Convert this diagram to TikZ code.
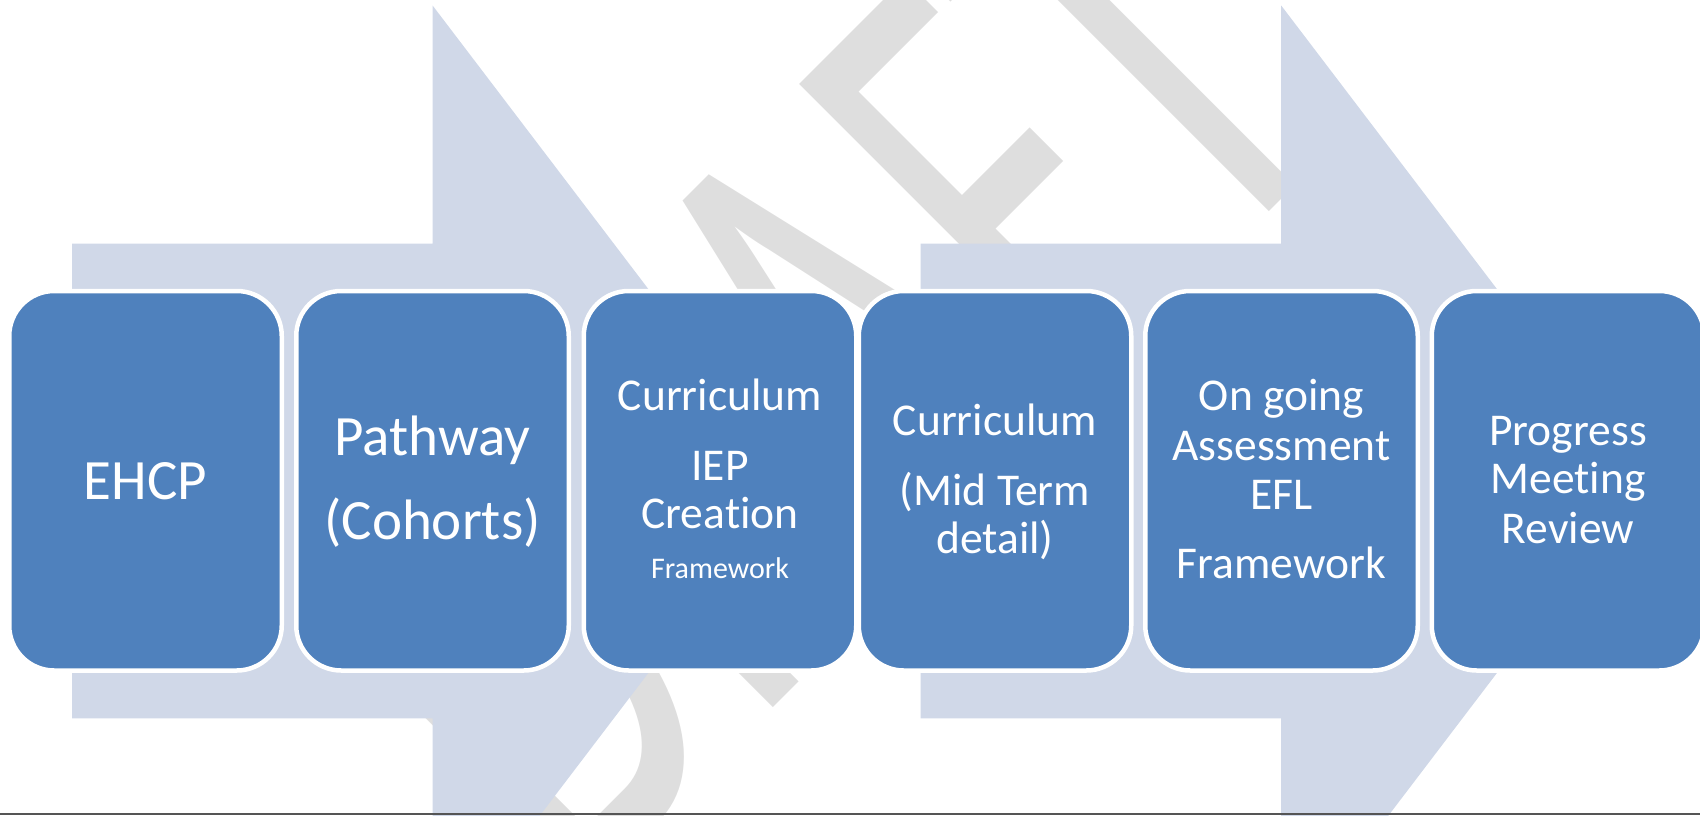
\documentclass[tikz,border=0pt]{standalone}
\usepackage{fontspec}
\setmainfont{Carlito}[Ligatures=NoCommon]
\usepackage{graphicx}
\definecolor{boxblue}{RGB}{79,129,189}
\definecolor{arrowblue}{RGB}{208,216,232}
\definecolor{wmgray}{RGB}{222,222,222}
\definecolor{botline}{RGB}{85,85,85}
\begin{document}
\begin{tikzpicture}[x=1pt,y=-1pt,
  stepbox/.style={draw=white, line width=4.5pt, fill=boxblue, rounded corners=45pt,
    minimum width=272.5pt, minimum height=379.5pt, inner sep=0pt, outer sep=0pt},
  bigtxt/.style={text=white, anchor=base, inner sep=0pt, font=\fontsize{57}{60}\selectfont},
  midtxt/.style={text=white, anchor=base, inner sep=0pt, font=\fontsize{45.5}{50}\selectfont},
  smalltxt/.style={text=white, anchor=base, inner sep=0pt, font=\fontsize{30}{33}\selectfont},
  chevron/.style={fill=arrowblue},
  wmark/.style={text=wmgray, anchor=base west, inner sep=0pt, rotate=45,
    font=\fontsize{658}{700}\selectfont},
]
\useasboundingbox (0,0) rectangle (1700,815);
\clip (0,0) rectangle (1700,815);
% watermark
\node[wmark] (wm) at (574,907) {\scalebox{0.624}[1]{DRAFT}};
% arrows
\fill[chevron] (72,243.5) -- (432.6,243.5) -- (432.6,5.5) -- (794.4,481) -- (432.6,956.5) -- (432.6,718.3) -- (72,718.3) -- cycle;
\fill[chevron] (920.6,243.5) -- (1281.2,243.5) -- (1281.2,5.5) -- (1643,481) -- (1281.2,956.5) -- (1281.2,718.3) -- (920.6,718.3) -- cycle;
% boxes
\node[stepbox] (b1) at (145.5,480.75) {};
\node[stepbox] (b2) at (432.5,480.75) {};
\node[stepbox] (b3) at (720,480.75) {};
\node[stepbox] (b4) at (995,480.75) {};
\node[stepbox] (b5) at (1281.5,480.75) {};
\node[stepbox] (b6) at (1568,480.75) {};
% texts
\node[bigtxt] (t1a) at (145.5,499) {EHCP};
\node[bigtxt] (t2a) at (432.5,455) {Pathway};
\node[bigtxt] (t2b) at (432.5,539) {(Cohorts)};
\node[midtxt] (t3a) at (720,410.5) {Curriculum};
\node[midtxt] (t3b) at (720,480) {IEP};
\node[midtxt] (t3c) at (720,528.3) {Creation};
\node[smalltxt] (t3d) at (720,578.3) {Framework};
\node[midtxt] (t4a) at (995,435) {Curriculum};
\node[midtxt] (t4b) at (995,505) {(Mid Term};
\node[midtxt] (t4c) at (995,553.5) {detail)};
\node[midtxt] (t5a) at (1281.5,410) {On going};
\node[midtxt] (t5b) at (1281.5,460) {Assessment};
\node[midtxt] (t5c) at (1281.5,509.3) {EFL};
\node[midtxt] (t5d) at (1281.5,578.3) {Framework};
\node[midtxt] (t6a) at (1568,445) {Progress};
\node[midtxt] (t6b) at (1568,493.3) {Meeting};
\node[midtxt] (t6c) at (1568,543.3) {Review};
% bottom rule
\fill[botline] (0,813.2) rectangle (1700,815);
\end{tikzpicture}
\end{document}
